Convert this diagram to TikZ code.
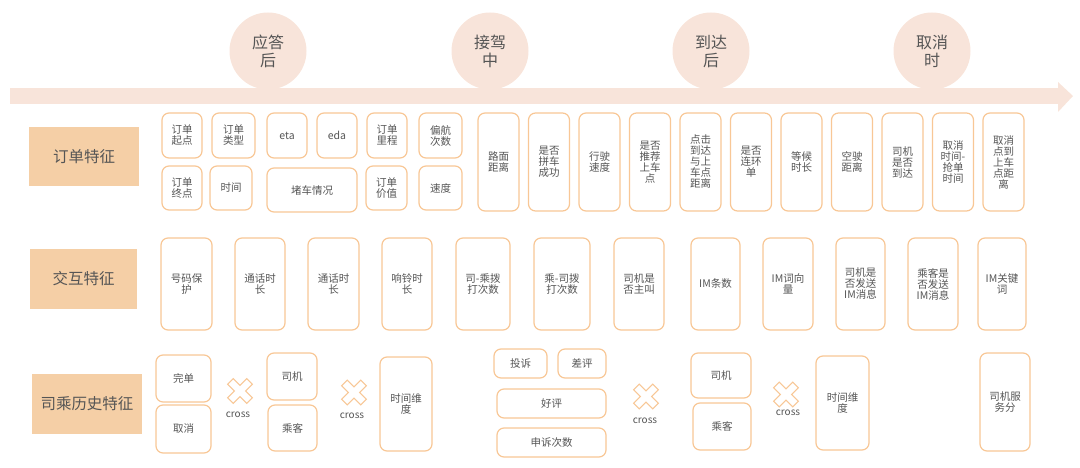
\documentclass[tikz,border=0pt]{standalone}
\usepackage{fontspec}
\setmainfont{Noto Sans CJK SC}

\definecolor{peach}{RGB}{248,228,218}
\definecolor{catfill}{RGB}{245,207,166}
\definecolor{edgeorange}{RGB}{248,199,150}
\definecolor{textgray}{RGB}{85,85,85}

\begin{document}
\begin{tikzpicture}[
    x=1pt, y=-1pt,
    every node/.style={font=\fontsize{10.5}{11}\selectfont, text=textgray, align=center},
    featbox/.style={draw=edgeorange, line width=1.2pt, rounded corners=7pt, fill=white, inner sep=0pt},
    catbox/.style={fill=catfill, inner sep=0pt, font=\fontsize{15.5}{18}\selectfont},
    stagedot/.style={circle, fill=peach, minimum size=77pt, inner sep=0pt, font=\fontsize{16}{18}\selectfont},
    xline/.style={draw=edgeorange, line width=1pt, fill=white},
    crosslabel/.style={font=\fontsize{10}{11}\selectfont},
]
\useasboundingbox (0,0) rectangle (1080,468);

% === Timeline ===
\foreach \x/\t/\n in {268/{应答\\后}/ans, 490/{接驾\\中}/pick, 711/{到达\\后}/arr, 932/{取消\\时}/cancel} {
    \node[stagedot] (st-\n) at (\x,51) {\t};
}
\fill[peach] (10,88) rectangle (1058,104);
\fill[peach] (1058,82) -- (1073,96) -- (1058,112) -- cycle;

% === Category labels ===
\node[catbox, minimum width=110pt, minimum height=59pt] (cat-order) at (84,156.5) {订单特征};
\node[catbox, minimum width=107pt, minimum height=60pt] (cat-talk) at (83.5,279) {交互特征};
\node[catbox, minimum width=110pt, minimum height=60pt] (cat-hist) at (87,404) {司乘历史特征};

% === Order features: small boxes ===
\foreach \x/\y/\w/\h/\t [count=\i] in {
    182/135.5/40/45/{订单\\起点}, 233.5/135.5/43/45/{订单\\类型},
    287/135.5/40/45/eta, 337/135.5/40/45/eda,
    387/135.5/40/45/{订单\\里程}, 440.5/135.5/43/45/{偏航\\次数},
    182/188/40/44/{订单\\终点}, 231/188/42/44/时间,
    312/190/90/44/堵车情况, 386.5/188/41/44/{订单\\价值},
    440.5/188/43/44/速度} {
    \node[featbox, minimum width=\w pt, minimum height=\h pt] (ord-s\i) at (\x,\y) {\t};
}

% === Order features: tall boxes ===
\foreach \t [count=\i from 0] in {{路面\\距离}, {是否\\拼车\\成功}, {行驶\\速度},
    {是否\\推荐\\上车\\点}, {点击\\到达\\与上\\车点\\距离}, {是否\\连环\\单},
    {等候\\时长}, {空驶\\距离}, {司机\\是否\\到达}, {取消\\时间-\\抢单\\时间},
    {取消\\点到\\上车\\点距\\离}} {
    \node[featbox, minimum width=41pt, minimum height=98pt] (ord-t\i) at ({498.5+50.5*\i},162) {\t};
}

% === Interaction features ===
\foreach \x/\w/\t [count=\i] in {186.5/51/{号码保\\护}, 260/50/{通话时\\长},
    333.5/51/{通话时\\长}, 407/50/{响铃时\\长}, 483/54/{司-乘拨\\打次数},
    562/56/{乘-司拨\\打次数}, 639/50/{司机是\\否主叫}, 715.5/49/IM条数,
    788/50/{IM词向\\量}, 860.5/49/{司机是\\否发送\\IM消息},
    933/50/{乘客是\\否发送\\IM消息}, 1002/48/{IM关键\\词}} {
    \node[featbox, minimum width=\w pt, minimum height=92pt] (talk-\i) at (\x,284) {\t};
}

% === History features ===
\node[featbox, minimum width=55pt, minimum height=47pt] (done) at (183.5,378.5) {完单};
\node[featbox, minimum width=55pt, minimum height=48pt] (cancel) at (183.5,429) {取消};
\node[featbox, minimum width=50pt, minimum height=47pt] (drv-a) at (292,376.5) {司机};
\node[featbox, minimum width=49pt, minimum height=46pt] (pax-a) at (292.5,428) {乘客};
\node[featbox, minimum width=52pt, minimum height=94pt] (time-a) at (406,404) {时间维\\度};

\node[featbox, minimum width=53pt, minimum height=29pt] (complain) at (520.5,363.5) {投诉};
\node[featbox, minimum width=48pt, minimum height=29pt] (badrate) at (582,363.5) {差评};
\node[featbox, minimum width=109pt, minimum height=29pt] (goodrate) at (551.5,403.5) {好评};
\node[featbox, minimum width=109pt, minimum height=29pt] (appeal) at (551.5,442.5) {申诉次数};
\node[featbox, minimum width=60pt, minimum height=45pt] (drv-b) at (721,375.5) {司机};
\node[featbox, minimum width=58pt, minimum height=47pt] (pax-b) at (722,426.5) {乘客};
\node[featbox, minimum width=53pt, minimum height=94pt] (time-b) at (842.5,403) {时间维\\度};
\node[featbox, minimum width=50pt, minimum height=98pt] (score) at (1005,402) {司机服\\务分};

% cross marks
\foreach \x/\y/\lx/\ly [count=\i] in {240/391/238/415, 354/392.5/352/416,
    646/396.5/645/421, 786/394.5/788/413} {
    \draw[xline, shift={(\x,\y)}, rotate=45]
        (4,13.5) -- (4,4) -- (13.5,4) -- (13.5,-4) -- (4,-4) -- (4,-13.5)
        -- (-4,-13.5) -- (-4,-4) -- (-13.5,-4) -- (-13.5,4) -- (-4,4) -- (-4,13.5) -- cycle;
    \node[crosslabel] (cross-\i) at (\lx,\ly) {cross};
}

\end{tikzpicture}
\end{document}
